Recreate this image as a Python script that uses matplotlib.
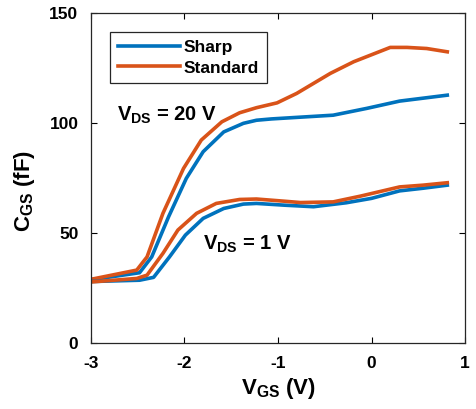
import matplotlib
matplotlib.use("Agg")
import matplotlib.pyplot as plt

plt.rcParams["font.family"] = ["Liberation Sans", "DejaVu Sans"]
plt.rcParams["font.weight"] = "bold"
plt.rcParams["mathtext.fontset"] = "custom"
plt.rcParams["mathtext.rm"] = "Liberation Sans:bold"
plt.rcParams["mathtext.it"] = "Liberation Sans:bold"
plt.rcParams["mathtext.bf"] = "Liberation Sans:bold"
plt.rcParams["mathtext.default"] = "rm"

# Gate-source capacitance vs gate voltage (fF)
vgs_sharp_20 = [-3.0, -2.48, -2.35, -2.17, -1.98, -1.80, -1.58, -1.37, -1.23, -1.07,
                -0.80, -0.41, -0.05, 0.30, 0.81]
cgs_sharp_20 = [28.8, 32.0, 39.2, 57.4, 74.9, 87.0, 96.0, 99.9, 101.3, 101.9,
                102.6, 103.6, 106.7, 110.0, 112.7]

vgs_std_20 = [-3.0, -2.51, -2.40, -2.23, -2.01, -1.82, -1.60, -1.41, -1.23, -1.01,
              -0.80, -0.44, -0.19, 0.20, 0.38, 0.59, 0.81]
cgs_std_20 = [29.0, 33.2, 39.2, 59.0, 79.4, 92.3, 100.6, 104.7, 107.0, 109.2,
              113.5, 122.6, 127.9, 134.4, 134.4, 133.9, 132.4]

vgs_sharp_1 = [-3.0, -2.48, -2.33, -2.16, -1.99, -1.80, -1.58, -1.37, -1.23, -0.93,
               -0.62, -0.27, 0.0, 0.30, 0.55, 0.81]
cgs_sharp_1 = [28.0, 28.6, 29.9, 39.2, 49.1, 56.7, 61.2, 63.2, 63.5, 62.7,
               62.0, 63.8, 65.8, 69.2, 70.4, 71.8]

vgs_std_1 = [-3.0, -2.51, -2.40, -2.23, -2.07, -1.87, -1.66, -1.41, -1.23, -0.93,
             -0.76, -0.41, -0.12, 0.30, 0.55, 0.81]
cgs_std_1 = [27.8, 29.4, 30.9, 40.8, 51.4, 59.0, 63.5, 65.3, 65.5, 64.5,
             63.9, 64.2, 66.8, 71.0, 71.8, 72.9]

x_ticks = [-3, -2, -1, 0, 1]
x_tick_labels = ["-3", "-2", "-1", "0", "1"]
y_ticks = [0, 50, 100, 150]

blue = "#0072BD"
orange = "#D95319"

fig = plt.figure(figsize=(4.76, 4.09), dpi=100)
ax = fig.add_axes([0.191, 0.161, 0.786, 0.807])

lw = 2.6
ax.plot(vgs_sharp_20, cgs_sharp_20, color=blue, lw=lw, label="Sharp")
ax.plot(vgs_std_20, cgs_std_20, color=orange, lw=lw, label="Standard")
ax.plot(vgs_sharp_1, cgs_sharp_1, color=blue, lw=lw)
ax.plot(vgs_std_1, cgs_std_1, color=orange, lw=lw)

ax.set_xlim(-3, 1)
ax.set_ylim(0, 150)
ax.set_xticks(x_ticks)
ax.set_xticklabels(x_tick_labels)
ax.set_yticks(y_ticks)
ax.tick_params(direction="in", length=4, width=0.8, top=True, right=True,
               labelsize=12.5, pad=9)
for s in ax.spines.values():
    s.set_linewidth(0.9)
    s.set_color("#262626")

ax.set_xlabel(r"V$_{\mathrm{GS}}$ (V)", fontsize=16, fontweight="bold")
ax.set_ylabel(r"C$_{\mathrm{GS}}$ (fF)", fontsize=16, fontweight="bold")
ax.xaxis.set_label_coords(0.50, -0.10)
ax.yaxis.set_label_coords(-0.145, 0.46)

ax.text(-2.72, 101, r"V$_{\mathrm{DS}}$ = 20 V", fontsize=14.5, fontweight="bold")
ax.text(-1.80, 42.5, r"V$_{\mathrm{DS}}$ = 1 V", fontsize=14.5, fontweight="bold")

leg = ax.legend(loc="upper left", bbox_to_anchor=(0.051, 0.942), fontsize=12.5,
                frameon=True, fancybox=False, handlelength=3.6, handletextpad=0.2,
                borderpad=0.45, labelspacing=0.3, borderaxespad=0)
leg.get_frame().set_edgecolor("#262626")
leg.get_frame().set_linewidth(0.9)
leg.get_frame().set_alpha(1)

fig.savefig("out.png", dpi=100)
